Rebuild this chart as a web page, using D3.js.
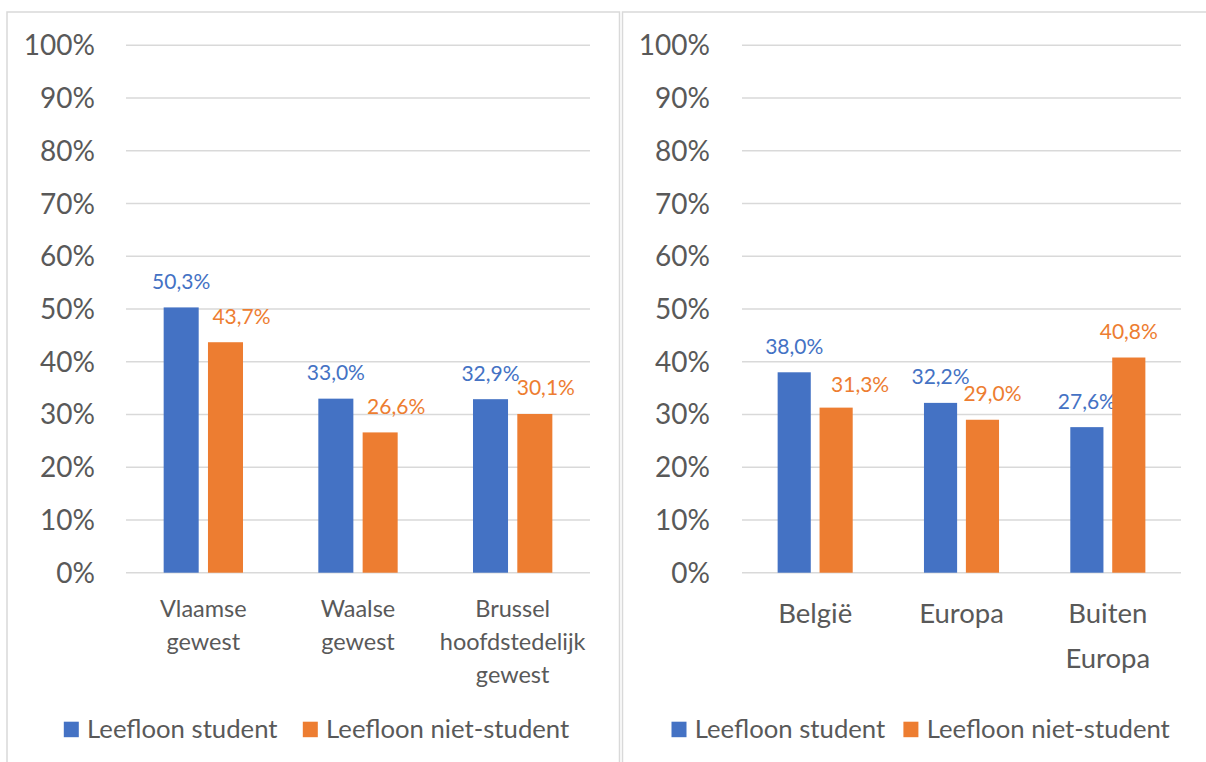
<!DOCTYPE html>
<html>
<head>
<meta charset="utf-8">
<script src="https://cdn.jsdelivr.net/npm/d3@7/dist/d3.min.js"></script>
<style>
  html, body { margin: 0; padding: 0; background: #ffffff; }
  svg { display: block; }
  text { font-family: Lato, "Open Sans", sans-serif; }
</style>
</head>
<body>
<svg id="chart" width="1206" height="762"></svg>
<script>
// Share of leefloon recipients, by region and by origin
const seriesNames = ["Leefloon student", "Leefloon niet-student"];
const regionCategories = ["Vlaamse gewest", "Waalse gewest", "Brussel hoofdstedelijk gewest"];
const regionStudent = [50.3, 33.0, 32.9];
const regionNonStudent = [43.7, 26.6, 30.1];
const originCategories = ["België", "Europa", "Buiten Europa"];
const originStudent = [38.0, 32.2, 27.6];
const originNonStudent = [31.3, 29.0, 40.8];
const yTickValues = [0, 10, 20, 30, 40, 50, 60, 70, 80, 90, 100];

// Category labels broken over lines
const regionLines = [["Vlaamse", "gewest"], ["Waalse", "gewest"], ["Brussel", "hoofdstedelijk", "gewest"]];
const originLines = [["België"], ["Europa"], ["Buiten", "Europa"]];

const colors = ["#4472C4", "#ED7D31"];
const textGray = "#595959";
const gridGray = "#D9D9D9";
const fmt = v => d3.format(".1f")(v).replace(".", ",") + "%";

const svg = d3.select("#chart");

const panels = [
  {
    frame: { x: 7, y: 12, w: 612.5, h: 800 },
    plot: { x0: 126, x1: 590 },
    tickX: 95,
    categories: regionCategories,
    lines: regionLines,
    values: [regionStudent, regionNonStudent],
    catFont: 23.5, catBase: 616.7, catStep: 33,
    labelDx: [[0, 0, 0], [16, 16, 11]],
    labelDy: [[0, 0, 0], [0, 0, 0]],
    legend: { x: 63.8, gap: 25.3 }
  },
  {
    frame: { x: 622.5, y: 12, w: 700, h: 800 },
    plot: { x0: 742, x1: 1181 },
    tickX: 710,
    categories: originCategories,
    lines: originLines,
    values: [originStudent, originNonStudent],
    catFont: 27.5, catBase: 623, catStep: 44.6,
    labelDx: [[0, 0, 0], [24, 10, 0]],
    labelDy: [[0, 0, 0], [3, 0, 0]],
    legend: { x: 671.5, gap: 18.2 }
  }
];

const y = d3.scaleLinear().domain([0, 100]).range([572.7, 45.3]);

panels.forEach(p => {
  const g = svg.append("g");

  // panel frame
  g.append("rect")
    .attr("x", p.frame.x).attr("y", p.frame.y)
    .attr("width", p.frame.w).attr("height", p.frame.h)
    .attr("fill", "#fff").attr("stroke", gridGray).attr("stroke-width", 1.5);

  // gridlines
  g.selectAll("line.grid").data(yTickValues).join("line")
    .attr("x1", p.plot.x0).attr("x2", p.plot.x1)
    .attr("y1", d => y(d)).attr("y2", d => y(d))
    .attr("stroke", gridGray).attr("stroke-width", 1.5);

  // y tick labels
  g.selectAll("text.tick").data(yTickValues).join("text")
    .attr("x", p.tickX).attr("y", d => y(d) + 10)
    .attr("text-anchor", "end")
    .attr("font-size", 28).attr("fill", textGray)
    .text(d => d + "%");

  const x = d3.scaleBand().domain(p.categories).range([p.plot.x0, p.plot.x1]).padding(0);
  const bw = x.bandwidth();
  const barW = bw * 0.2265;
  const gap = bw * 0.06;
  const barX = (cat, s) => x(cat) + bw / 2 + (s === 0 ? -gap / 2 - barW : gap / 2);

  p.values.forEach((vals, s) => {
    const rows = vals.map((v, i) => ({ cat: p.categories[i], v, i }));
    g.selectAll("rect.s" + s).data(rows).join("rect")
      .attr("x", d => barX(d.cat, s))
      .attr("y", d => y(d.v))
      .attr("width", barW)
      .attr("height", d => y(0) - y(d.v))
      .attr("fill", colors[s]);

    g.selectAll("text.lab" + s).data(rows).join("text")
      .attr("x", d => barX(d.cat, s) + barW / 2 + p.labelDx[s][d.i])
      .attr("y", d => y(d.v) - 18.5 + p.labelDy[s][d.i])
      .attr("text-anchor", "middle")
      .attr("font-size", 21).attr("fill", colors[s])
      .text(d => fmt(d.v));
  });

  // category labels
  p.categories.forEach((c, i) => {
    const t = g.append("text")
      .attr("text-anchor", "middle")
      .attr("font-size", p.catFont).attr("fill", textGray);
    p.lines[i].forEach((ln, k) => {
      t.append("tspan")
        .attr("x", x(c) + bw / 2)
        .attr("y", p.catBase + k * p.catStep)
        .text(ln);
    });
  });

  // legend
  const lg = g.append("g");
  let cx = p.legend.x;
  seriesNames.forEach((name, s) => {
    lg.append("rect")
      .attr("x", cx).attr("y", 721.7)
      .attr("width", 15).attr("height", 15.5)
      .attr("fill", colors[s]);
    cx += 15 + 8.3;
    const t = lg.append("text")
      .attr("x", cx).attr("y", 737.8)
      .attr("font-size", 25.7).attr("fill", textGray)
      .text(name);
    cx += t.node().getComputedTextLength() + p.legend.gap;
  });
});
</script>
</body>
</html>
